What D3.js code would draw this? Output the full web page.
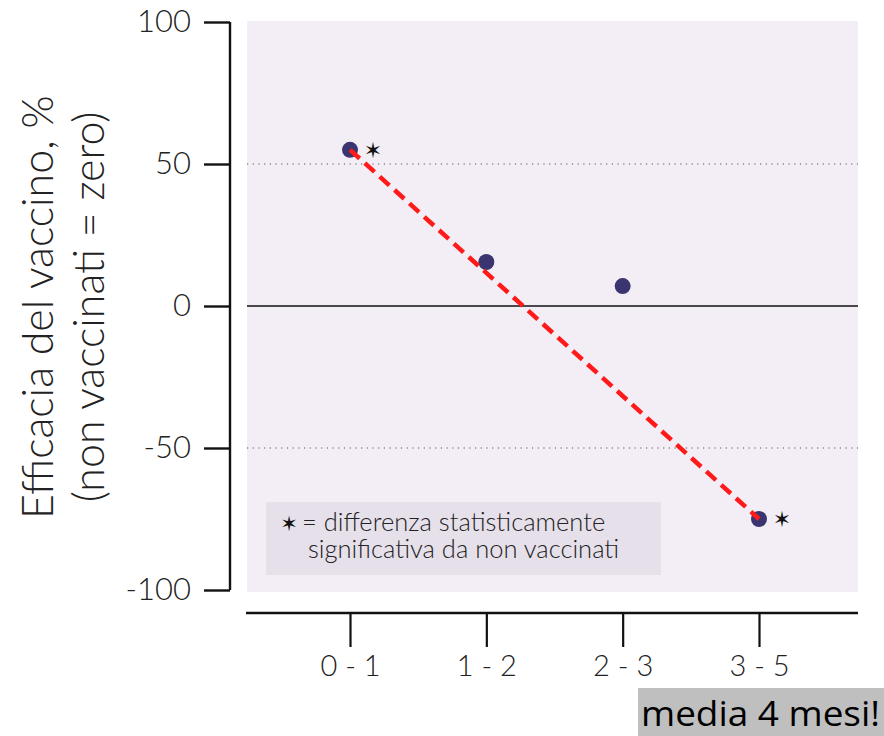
<!DOCTYPE html>
<html>
<head>
<meta charset="utf-8">
<script src="https://cdn.jsdelivr.net/npm/d3@7"></script>
<style>
  html, body { margin: 0; padding: 0; background: #fff; }
  svg { display: block; }
</style>
</head>
<body>
<svg id="chart" width="884" height="736"></svg>
<script>
const categories = ["0 - 1", "1 - 2", "2 - 3", "3 - 5"];
const efficacy = [55, 15.5, 7, -75];
const significant = [true, false, false, true];
const yTicks = [-100, -50, 0, 50, 100];
const trendFrom = 0, trendTo = 3;

const svg = d3.select("#chart");
const font = "Lato, 'Open Sans', sans-serif";

const plot = { left: 247, right: 858, top: 21, bottom: 592 };
const x = d3.scalePoint().domain(categories).range([350, 759]);
const y = d3.scaleLinear().domain([-100, 100]).range([590, 22]);

// background
svg.append("rect")
  .attr("x", plot.left).attr("y", plot.top)
  .attr("width", plot.right - plot.left).attr("height", plot.bottom - plot.top)
  .attr("fill", "#f3eef5");

// dotted grid at +/-50
svg.selectAll("line.grid").data([50, -50]).enter().append("line")
  .attr("x1", plot.left).attr("x2", plot.right)
  .attr("y1", d => y(d)).attr("y2", d => y(d))
  .attr("stroke", "#555").attr("stroke-width", 1.2)
  .attr("stroke-dasharray", "1.2,4.5");

// zero line
svg.append("line")
  .attr("x1", plot.left).attr("x2", plot.right)
  .attr("y1", y(0)).attr("y2", y(0))
  .attr("stroke", "#111").attr("stroke-width", 1.6);

// legend box
const lg = svg.append("g");
lg.append("rect").attr("x", 266).attr("y", 502).attr("width", 395).attr("height", 73)
  .attr("fill", "#e6e0eb");
lg.append("text").attr("x", 289).attr("y", 531).attr("text-anchor", "middle")
  .attr("font-family", "'DejaVu Sans', sans-serif").attr("font-size", 21).attr("fill", "#111")
  .text("\u2736");
lg.append("text").attr("x", 302).attr("y", 531)
  .attr("font-family", font).attr("font-size", 25.5).attr("fill", "#222").attr("font-weight", 300)
  .text("= differenza statisticamente");
lg.append("text").attr("x", 308).attr("y", 558)
  .attr("font-family", font).attr("font-size", 25.5).attr("fill", "#222").attr("font-weight", 300)
  .text("significativa da non vaccinati");

// y axis
const yAxis = svg.append("g")
  .attr("transform", "translate(230,0)")
  .call(d3.axisLeft(y).tickValues(yTicks).tickSize(26).tickSizeOuter(0).tickPadding(13)
    .tickFormat(d => String(d)));
yAxis.select(".domain").attr("stroke", "#111").attr("stroke-width", 2.4)
  .attr("d", `M0,${y(100)}V${y(-100)}`);
yAxis.selectAll(".tick line").attr("stroke", "#111").attr("stroke-width", 2.4);
yAxis.selectAll(".tick text").attr("font-family", font).attr("font-size", 31)
  .attr("fill", "#222").attr("font-weight", 300);

// x axis
const xAxis = svg.append("g")
  .attr("transform", "translate(0,613)")
  .call(d3.axisBottom(x).tickSize(34).tickSizeOuter(0).tickPadding(8));
xAxis.select(".domain").remove();
xAxis.append("line").attr("x1", 246).attr("x2", 858).attr("y1", 0).attr("y2", 0)
  .attr("stroke", "#111").attr("stroke-width", 2.6);
xAxis.selectAll(".tick line").attr("stroke", "#111").attr("stroke-width", 2.2);
xAxis.selectAll(".tick text").attr("font-family", font).attr("font-size", 29)
  .attr("fill", "#222").attr("font-weight", 300);

// y title
const yt = svg.append("text")
  .attr("transform", "translate(0,307) rotate(-90)")
  .attr("text-anchor", "middle")
  .attr("font-family", font).attr("font-size", 43).attr("fill", "#222").attr("font-weight", 300);
yt.append("tspan").attr("x", 0).attr("y", 53).text("Efficacia del vaccino, %");
yt.append("tspan").attr("x", 0).attr("y", 104).text("(non vaccinati = zero)");

// points
svg.selectAll("circle.pt").data(categories).enter().append("circle")
  .attr("cx", d => x(d)).attr("cy", (d, i) => y(efficacy[i])).attr("r", 8)
  .attr("fill", "#3a3470");

// trend line
svg.append("line")
  .attr("x1", x(categories[trendFrom])).attr("y1", y(efficacy[trendFrom]))
  .attr("x2", x(categories[trendTo])).attr("y2", y(efficacy[trendTo]))
  .attr("stroke", "#ff1a1a").attr("stroke-width", 4.5)
  .attr("stroke-dasharray", "13,7");

// stars
svg.selectAll("text.star").data(categories.filter((d, i) => significant[i])).enter().append("text")
  .attr("x", d => x(d) + 23).attr("y", d => y(efficacy[categories.indexOf(d)]) + 8)
  .attr("text-anchor", "middle")
  .attr("font-family", "'DejaVu Sans', sans-serif").attr("font-size", 22).attr("fill", "#111")
  .text("\u2736");

// annotation
svg.append("rect").attr("x", 638).attr("y", 688).attr("width", 246).attr("height", 48).attr("fill", "#bfbfbf");
svg.append("text").attr("x", 641).attr("y", 726)
  .attr("font-family", "'Open Sans', 'Liberation Sans', sans-serif").attr("font-size", 34).attr("fill", "#000")
  .attr("textLength", 239).attr("lengthAdjust", "spacingAndGlyphs")
  .text("media 4 mesi!");
</script>
</body>
</html>
